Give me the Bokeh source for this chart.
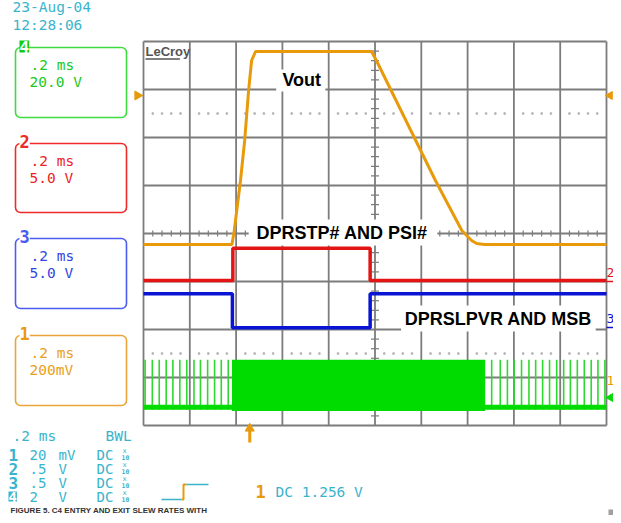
import numpy as np
from bokeh.plotting import figure
from bokeh.models import Range1d, Label, BoxAnnotation
from bokeh.embed import file_html
from bokeh.resources import INLINE

# ---------------- data (time in ms, level in screen divisions, centre = 0) -------------
vout_t = [0.0, 0.382, 0.391, 0.419, 0.437, 0.454, 0.467, 0.484, 0.985, 1.006, 1.261, 1.375, 1.417, 1.439, 1.473, 2.0]
vout_v = [-0.229, -0.229, 0.021, 1.104, 1.938, 2.979, 3.604, 3.792, 3.792, 3.604, 1.104, 0.0625, -0.146, -0.208, -0.229, -0.229]

dprstp_t = [0.0, 0.386, 0.386, 0.979, 0.979, 2.0]
dprstp_v = [-0.979, -0.979, -0.306, -0.306, -0.979, -0.979]

dprslp_t = [0.0, 0.384, 0.384, 0.979, 0.979, 2.0]
dprslp_v = [-1.256, -1.256, -1.965, -1.965, -1.256, -1.256]

phase_base = -3.619
phase_high = -2.631
phase_low = -3.70
burst_start = 0.382
burst_end = 1.476
pulses_before = [0.007, 0.038, 0.068, 0.098, 0.127, 0.157, 0.187, 0.218, 0.246, 0.277, 0.307, 0.336, 0.366]
pulses_after = [1.504, 1.541, 1.572, 1.601, 1.633, 1.665, 1.694, 1.724, 1.754, 1.785, 1.815, 1.844,
                1.874, 1.904, 1.934, 1.963, 1.993]

trigger_t = 0.459
trigger_level = 2.875

# ---------------- geometry helpers ----------------
X0, SX = 143.0, 231.5   # canvas px of t=0, px per ms
Y0, SY = 233.0, 48.0    # canvas px of centre line, px per division
W, H = 613, 515


def tx(px):          # canvas px -> time (for things outside the graticule)
    return (px - X0) / SX


def tr(px):          # reference graticule px -> time (for things inside the graticule)
    return (px - 143.0) / 235.5


def ty(py):
    return (Y0 - py) / SY


ORANGE = "#e89a0a"
RED = "#e31414"
BLUE = "#0a14d4"
GREEN = "#00dc00"
TEAL = "#3ab4cc"
GRID = "#7c7c7c"

p = figure(width=W, height=H, output_backend="svg", toolbar_location=None,
           x_range=Range1d(tx(0), tx(W)), y_range=Range1d(ty(H), ty(0)),
           x_axis_type=None, y_axis_type=None, min_border=0,
           outline_line_color=None, background_fill_color="white", border_fill_color="white")
p.xgrid.visible = False
p.ygrid.visible = False

# ---------------- graticule ----------------
maj_t = [i * 0.2 for i in range(11)]
maj_v = list(range(-4, 5))
p.segment(x0=maj_t, y0=-4, x1=maj_t, y1=4, line_color=GRID, line_width=1.8)
p.segment(x0=0, y0=maj_v, x1=2.0, y1=maj_v, line_color=GRID, line_width=1.8)

sub_t = [k * 0.04 for k in range(1, 50) if k % 5]
sub_v = [k * 0.2 for k in range(-19, 20) if k % 5]
p.segment(x0=sub_t, y0=-3 / SY, x1=sub_t, y1=3 / SY, line_color=GRID, line_width=1.2)
p.segment(x0=1.0 - 4 / SX, y0=sub_v, x1=1.0 + 4 / SX, y1=sub_v, line_color=GRID, line_width=1.2)
for lv in (2.5, -2.5):
    p.scatter(x=sub_t, y=[lv] * len(sub_t), marker="square", size=1.5, color="#b4b4b4")

# ---------------- traces ----------------
p.segment(x0=pulses_before + pulses_after, y0=phase_low + 0.03, x1=pulses_before + pulses_after,
          y1=phase_high, line_color="#2fd82f", line_width=1.6)
p.line([0.0, 2.0], [phase_base, phase_base], line_color=GREEN, line_width=5)
p.quad(left=burst_start, right=burst_end, bottom=phase_low, top=phase_high, fill_color=GREEN, line_color=None)

p.line(dprslp_t, dprslp_v, line_color=BLUE, line_width=3.5)
p.line(dprstp_t, dprstp_v, line_color=RED, line_width=3.5)
p.line(vout_t, vout_v, line_color=ORANGE, line_width=3)

# ---------------- markers ----------------
p.scatter(x=[tx(137)], y=[trigger_level], marker="triangle", angle=-np.pi / 2, size=9, color=ORANGE)
p.scatter(x=[tx(609.5)], y=[trigger_level], marker="triangle", angle=np.pi / 2, size=8, color=ORANGE)
p.scatter(x=[trigger_t], y=[ty(428)], marker="triangle", size=9, color=ORANGE)
p.segment(x0=trigger_t, y0=ty(430), x1=trigger_t, y1=ty(442), line_color=ORANGE, line_width=3)
p.scatter(x=[tx(610)], y=[ty(397)], marker="triangle", angle=np.pi / 2, size=8, color=GREEN)
p.segment(x0=tx(606), y0=ty(281), x1=tx(613), y1=ty(281), line_color=RED, line_width=1.5)
p.segment(x0=tx(606), y0=ty(327), x1=tx(613), y1=ty(327), line_color=BLUE, line_width=1.5)


def lab(text, x, py, color, size="14.5px", font="DejaVu Sans Mono", style="normal",
        align="left", baseline="middle", bg=None):
    p.add_layout(Label(x=x, y=ty(py), text=text, text_color=color, text_font_size=size,
                       text_font=font, text_font_style=style, text_align=align,
                       text_baseline=baseline, background_fill_color=bg, background_fill_alpha=1.0))


# white boxes behind annotations (inside graticule)
for l, r, t, b in [(278, 328, 69, 91), (250, 442, 219, 245), (405, 603, 305, 331)]:
    p.add_layout(BoxAnnotation(left=tr(l), right=tr(r), top=ty(t), bottom=ty(b),
                               fill_color="white", fill_alpha=1, line_color=None))

lab("Vout", tr(304), 79, "black", size="18px", font="Liberation Sans", style="bold", align="center")
lab("DPRSTP# AND PSI#", tr(345), 232, "black", size="18px", font="Liberation Sans", style="bold", align="center")
lab("DPRSLPVR AND MSB", tr(504), 318, "black", size="18px", font="Liberation Sans", style="bold", align="center")

lab("LeCroy", tr(145), 51, "#555555", size="13px", font="Liberation Sans", style="bold")
p.segment(x0=tr(145), y0=ty(58.5), x1=tr(180), y1=ty(58.5), line_color="#555555", line_width=1.5)

lab("2", tx(606), 272, RED, size="13px")
lab("3", tx(606), 318, BLUE, size="13px")
lab("1", tx(606), 380, ORANGE, size="13px")

# ---------------- left panel ----------------
lab("23-Aug-04", tx(12), 6, TEAL)
lab("12:28:06", tx(12), 24, TEAL)

boxes = [
    ("4", "#3fdc3f", "#22c822", 47, 117, ".2 ms", "20.0 V"),
    ("2", "#ee2a2a", "#ee2222", 143, 212, ".2 ms", "5.0 V"),
    ("3", "#4b5cf0", "#3344e0", 238, 308, ".2 ms", "5.0 V"),
    ("1", "#eaa53a", "#e8a020", 335, 405, ".2 ms", "200mV"),
]
for num, edge, txtc, top, bot, l1, l2 in boxes:
    p.add_layout(BoxAnnotation(left=tx(15), right=tx(126), top=ty(top), bottom=ty(bot),
                               fill_alpha=0, line_color=edge, line_alpha=1.0, line_width=1.6,
                               border_radius=5))
    if num == "4":
        lab(num, tx(19), top - 1, "white", size="16px", style="bold", bg="#11cc11")
    else:
        lab(num, tx(19), top - 2, edge if num != "1" else "#e89a10", size="17px", style="bold", bg="white")
    lab(l1, tx(30), top + 17, txtc)
    lab(l2, tx(29), top + 34, txtc)

# ---------------- bottom panel ----------------
lab(".2 ms", tx(12), 435, TEAL)
lab("BWL", tx(105), 435, TEAL)
rows = [("1", "20", "mV", 454), ("2", ".5", " V", 468), ("3", ".5", " V", 482), ("4", " 2", " V", 496)]
for num, v, u, y in rows:
    if num == "4":
        lab(num, tx(8), y, "white", size="14px", style="bold", bg=TEAL)
    else:
        lab(num, tx(8), y, TEAL, size="16px", style="bold")
    lab(v, tx(29), y, TEAL, size="14px")
    lab(u, tx(58), y, TEAL, size="14px")
    lab("DC", tx(96), y, TEAL, size="14px")
    lab("x", tx(122), y - 4, TEAL, size="7px")
    lab("10", tx(121), y + 3, TEAL, size="6.5px", style="bold")

p.line([tx(161), tx(181)], [ty(499), ty(499)], line_color=TEAL, line_width=1.5)
p.line([tx(181), tx(183), tx(183), tx(186)], [ty(499), ty(499), ty(484), ty(484)], line_color=ORANGE, line_width=2)
p.line([tx(186), tx(208)], [ty(484), ty(484)], line_color=TEAL, line_width=1.5)
lab("1", tx(255), 491, ORANGE, size="17px", style="bold")
lab("DC 1.256 V", tx(275), 491, TEAL)

lab("FIGURE 5. C4 ENTRY AND EXIT SLEW RATES WITH", tx(10), 514, "#333333", size="8px",
    font="Liberation Sans", style="bold", baseline="bottom")
p.quad(left=tx(608), right=tx(613), top=ty(509), bottom=ty(515), fill_color="#a0a0a0", line_color=None)

open("out.html", "w").write(file_html(p, INLINE))
